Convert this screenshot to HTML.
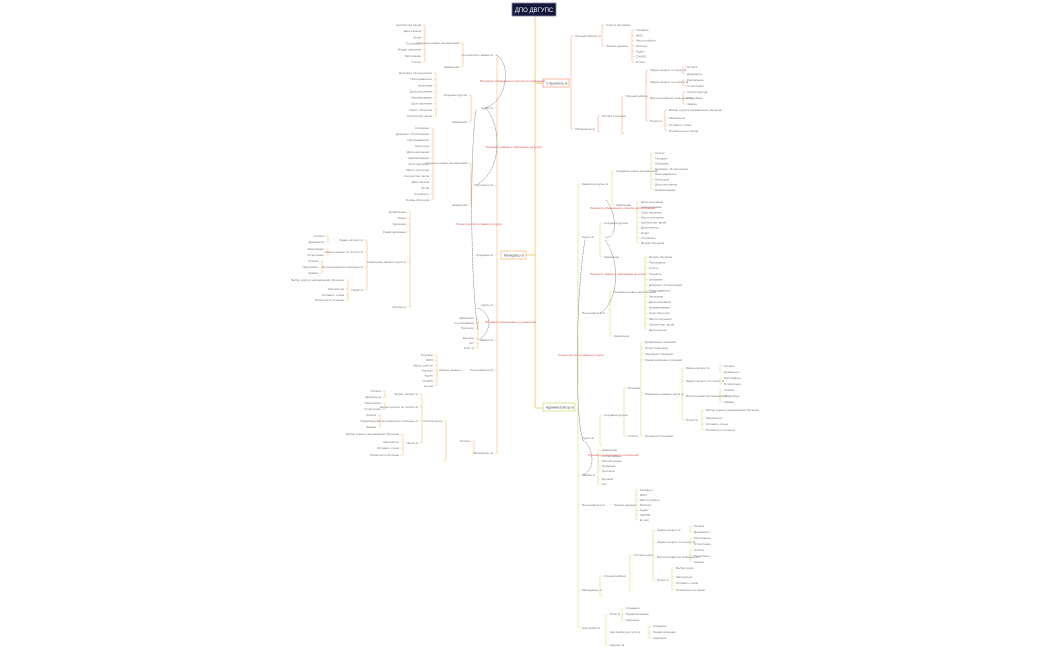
<!DOCTYPE html>
<html><head><meta charset="utf-8"><style>
html,body{margin:0;padding:0;background:#fff;width:1050px;height:650px;overflow:hidden}
svg{display:block}
text{font-family:"Liberation Sans",sans-serif;font-size:3px;fill:#777}
</style></head><body>
<svg id="s" width="1050" height="650" viewBox="0 0 1050 650" xmlns="http://www.w3.org/2000/svg">
<g id="g"></g>
<!-- spine -->
<line x1="535" y1="16" x2="535" y2="408" stroke="#ecd27a" stroke-width="1"/>
<line x1="535" y1="83" x2="543" y2="83" stroke="#ecd27a" stroke-width="1"/>
<line x1="535" y1="255" x2="525" y2="255" stroke="#ecd27a" stroke-width="1"/>
<line x1="535" y1="408" x2="543" y2="408" stroke="#ecd27a" stroke-width="1"/>
<rect x="512" y="3" width="44" height="13" fill="#14163a" stroke="#8888aa" stroke-width="0.8"/>
<text x="534" y="12" text-anchor="middle" style="font-size:6px;fill:#fff">ДПО ДВГУПС</text>
<rect x="543" y="79" width="26" height="8" fill="#fff" stroke="#f3a98e" stroke-width="0.8"/>
<text x="546" y="84.5" style="font-size:3.4px;fill:#555">Слушатель ⊖</text>
<rect x="501" y="251" width="25" height="8" fill="#fff" stroke="#f5c27a" stroke-width="0.8"/>
<text x="504" y="256.5" style="font-size:3.4px;fill:#555">Менеджер ⊖</text>
<rect x="543" y="403" width="32" height="8" fill="#fff" stroke="#d6dd7a" stroke-width="0.8"/>
<text x="546" y="408.5" style="font-size:3.4px;fill:#555">Администратор ⊖</text>
<!-- dark curved connectors -->
<g fill="none" stroke="#555a6a" stroke-width="0.5" stroke-dasharray="1.5,0.8">
<path d="M496 55 C510 60 510 100 485 108"/>
<path d="M485 108 C500 120 505 170 476 185"/>
<path d="M476 110 C470 150 470 280 478 330"/>
<path d="M478 308 C490 312 495 330 478 340"/>
<path d="M606 200 C615 210 620 240 605 237"/>
<path d="M605 240 C620 260 620 300 600 313"/>
<path d="M585 240 C575 300 575 420 583 440"/>
<path d="M583 440 C595 450 595 470 583 475"/>
</g>
<g style="font-size:2.8px">
<text x="480" y="82" style="fill:#e05050">Просмотр обращения и ответов на сообщения</text>
<text x="486" y="148" style="fill:#e05050">Просмотр заявки и обращения на курсы</text>
<text x="456" y="225" style="fill:#e05050">Только просмотр заявок по курсу</text>
<text x="485" y="323" style="fill:#e05050">Просмотр расписания и слушателей</text>
<text x="590" y="209" style="fill:#e05050">Просмотр обращения и ответов на сообщения</text>
<text x="590" y="275" style="fill:#e05050">Просмотр заявки и обращения на курсы</text>
<text x="558" y="356" style="fill:#e05050">Только просмотр заявок по курсу</text>
<text x="588" y="456" style="fill:#e05050">Просмотр расписания и слушателей</text>
</g>
</svg>
<script>
const g=document.getElementById('g');const NS='http://www.w3.org/2000/svg';
function el(t,a,txt){const e=document.createElementNS(NS,t);for(const k in a)e.setAttribute(k,a[k]);if(txt)e.textContent=txt;g.appendChild(e);return e;}
const W=['Наименование','Описание','Стоимость','Срок обучения','Документ об окончании','Форма обучения','Место обучения','Преподаватель','Расписание','Количество часов','Категория','Статус','Дата начала','Дата окончания','Телефон','Email'];
// col: bracket x, label x, ys array, color, dir(1 right, -1 left)
function col(bx,ys,c,dir,labels){
 el('line',{x1:bx,y1:ys[0],x2:bx,y2:ys[ys.length-1],stroke:c,'stroke-width':0.6});
 ys.forEach((y,i)=>{el('line',{x1:bx,y1:y,x2:bx+dir*3,y2:y,stroke:c,'stroke-width':0.4});
  el('text',{x:bx+dir*4,y:y+1,'text-anchor':dir>0?'start':'end'},labels?labels[i%labels.length]:W[(i*3+Math.round(bx))%W.length]);});
}
function rng(a,b,n){const r=[];for(let i=0;i<n;i++)r.push(a+(b-a)*i/(n-1));return r;}
const S='#f3a98e',M='#f5c27a',A='#d6dd7a';
// Слушатель
col(571,[36,129],S,1,['Личный кабинет ⊖','Обращение ⊖']);
col(602,[25,46],S,1,['Список программ','Личные данные']);
col(632,rng(30,62,7),S,1,['Телефон','ФИО','Место работы','Паспорт','Адрес','СНИЛС','E-mail']);
col(598,[116,132],S,1,['Оплата договора','']);
col(622,[96,134],S,1,['Личный кабинет','']);
col(646,[70,82,98,121],S,1,['Задать вопрос по курсу ⊖','Задать вопрос по оплате ⊖','Воспользоваться помощью ⊖','Поиск ⊖']);
col(683,[67,74],S,1,['Оплата','Документы']);
col(683,[80,86],S,1,['Расписание','Отчисление']);
col(683,[92,98,104],S,1,['Список курсов','Подробнее','Заявка']);
col(665,[110,118,125,131],S,1,['Выбор курса и направления обучения','Записаться','Оставить отзыв','Посмотреть историю']);
// Администратор
col(578,[184,237,313,438,475,505,590,628],A,1,['Заявки на курсы ⊖','Курсы ⊖','Пользователи ⊖','Курсы ⊖','Заявки ⊖','Пользователи ⊖','Менеджеры ⊖','Настройки ⊖']);
col(612,[171,205],A,1,['Создание новых направлений','Заявления']);
col(651,rng(153,190,8),A,1);
col(600,[223,257],A,1,['Создание курсов','Заявления']);
col(637,rng(202,243,9),A,1);
col(610,[292,336],A,1,['Создание новых направлений','Заявления']);
col(645,rng(257,330,14),A,1);
col(600,[415,445],A,1,['Создание курсов','']);
col(624,[388,436],A,1,['Платежи','Список']);
col(641,[342,348,354,360,394,436],A,1,['Добавление платежей','Поиск платежей','Удаление платежей','Редактирование платежей','Изменение данных курса ⊖','Просмотр платежей']);
col(682,[368,381,396,420],A,1,['Задать вопрос ⊖','Задать вопрос по оплате ⊖','Воспользоваться помощью ⊖','Поиск ⊖']);
col(720,[366,372],A,1,['Оплата','Документы']);
col(720,[378,384],A,1,['Расписание','Отчисление']);
col(720,[390,396,402],A,1,['Список','Подробнее','Заявка']);
col(702,[410,418,424,430],A,1,['Выбор курса и направления обучения','Записаться','Оставить отзыв','Посмотреть историю']);
col(598,[450,456,461,466,471,479,484],A,1,['Заявление','Согласование','Рассмотрение','Проверка','Протокол','Договор','Акт']);
col(610,[505],A,1,['Личные данные']);
col(636,rng(490,520,7),A,1,['Телефон','ФИО','Место работы','Паспорт','Адрес','СНИЛС','E-mail']);
col(600,[576,596],A,1,['Личный кабинет','']);
col(630,[555,592],A,1,['Оплата курса','']);
col(653,[530,542,557,580],A,1,['Задать вопрос ⊖','Задать вопрос по оплате ⊖','Воспользоваться помощью ⊖','Поиск ⊖']);
col(690,[526,532],A,1,['Оплата','Документы']);
col(690,[538,544],A,1,['Расписание','Отчисление']);
col(690,[550,556,562],A,1,['Список','Подробнее','Заявка']);
col(672,[568,577,583,590],A,1,['Выбор курса','Записаться','Оставить отзыв','Посмотреть историю']);
col(606,[614,632,645],A,1,['Роли ⊖','Настройки доступа ⊖','Журнал ⊖']);
col(622,[608,614,620],A,1,['Создание','Редактирование','Удаление']);
col(649,[626,632,638],A,1,['Создание','Редактирование','Удаление']);
// Менеджер (left)
col(497,[55,108,185,255,305,340,370,453],M,-1,['Просмотреть заявки ⊖','Курсы ⊖','Слушатели ⊖','Создание ⊖','Курсы ⊖','Заявки ⊖','Пользователи ⊖','Менеджеры ⊖']);
col(463,[43,67],M,-1,['Создание новых направлений','Заявления']);
col(425,rng(25,62,7),M,-1);
col(471,[95,122],M,-1,['Создание курсов','Заявления']);
col(436,rng(73,116,8),M,-1);
col(471,[163,205],M,-1,['Создание новых направлений','Заявления']);
col(433,rng(128,200,13),M,-1);
col(410,[212,218,224,232,262,307],M,-1,['Добавление','Поиск','Удаление','Редактирование','Изменение данных курса ⊖','Просмотр']);
col(367,[240,252,267,290],M,-1,['Задать вопрос ⊖','Задать вопрос по оплате ⊖','Воспользоваться помощью ⊖','Поиск ⊖']);
col(328,[236,242],M,-1,['Оплата','Документы']);
col(328,[249,255],M,-1,['Расписание','Отчисление']);
col(322,[261,267,273],M,-1,['Список','Подробнее','Заявка']);
col(348,[280,289,295,300],M,-1,['Выбор курса и направления обучения','Записаться','Оставить отзыв','Посмотреть историю']);
col(478,[318,323,328,338,343,348],M,-1,['Заявление','Согласование','Протокол','Договор','Акт','Счёт ⊖']);
col(465,[370],M,-1,['Личные данные']);
col(437,rng(355,386,7),M,-1,['Телефон','ФИО','Место работы','Паспорт','Адрес','СНИЛС','E-mail']);
col(474,[441,453],M,-1,['Оплата','']);
col(446,[421,460],M,-1,['Оплата курса','']);
col(422,[394,407,421,443],M,-1,['Задать вопрос ⊖','Задать вопрос по оплате ⊖','Воспользоваться помощью ⊖','Поиск ⊖']);
col(385,[391,397],M,-1,['Оплата','Документы']);
col(385,[403,409],M,-1,['Расписание','Отчисление']);
col(380,[415,421,427],M,-1,['Список','Подробнее','Заявка']);
col(403,[434,442,448,455],M,-1,['Выбор курса и направления обучения','Записаться','Оставить отзыв','Посмотреть историю']);
</script>
</body></html>
